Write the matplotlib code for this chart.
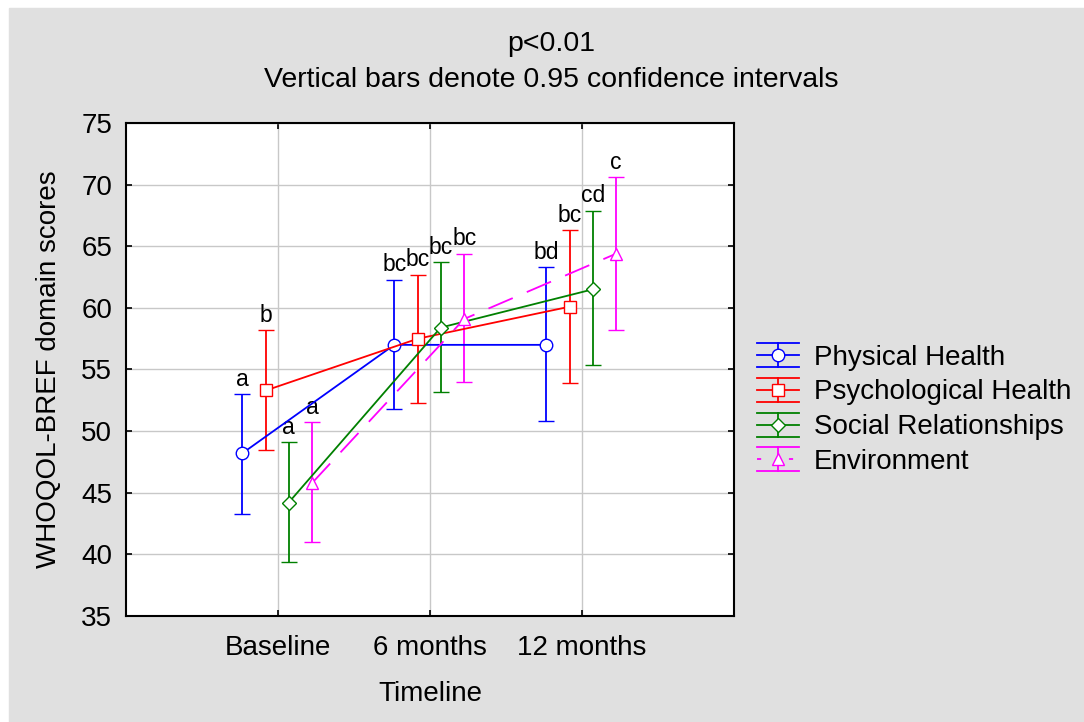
import matplotlib
matplotlib.use("Agg")
import matplotlib.pyplot as plt
from matplotlib.patches import Rectangle
from matplotlib.lines import Line2D
from matplotlib.legend_handler import HandlerBase
from matplotlib.container import ErrorbarContainer
import numpy as np

plt.rcParams['font.family'] = ['Liberation Sans', 'DejaVu Sans']
plt.rcParams['lines.scale_dashes'] = False

# data
timepoints = ["Baseline", "6 months", "12 months"]
domains = ["Physical Health", "Psychological Health", "Social Relationships", "Environment"]

physical_mean = [48.2, 57.0, 57.0]
physical_lo = [43.3, 51.8, 50.8]
physical_hi = [53.0, 62.3, 63.3]

psych_mean = [53.3, 57.5, 60.1]
psych_lo = [48.5, 52.3, 53.9]
psych_hi = [58.2, 62.7, 66.3]

social_mean = [44.2, 58.4, 61.5]
social_lo = [39.4, 53.2, 55.4]
social_hi = [49.1, 63.7, 67.9]

env_mean = [45.8, 59.1, 64.4]
env_lo = [41.0, 54.0, 58.2]
env_hi = [50.7, 64.4, 70.6]

physical_letters = ["a", "bc", "bd"]
psych_letters = ["b", "bc", "bc"]
social_letters = ["a", "bc", "cd"]
env_letters = ["a", "bc", "c"]

means = [physical_mean, psych_mean, social_mean, env_mean]
los = [physical_lo, psych_lo, social_lo, env_lo]
his = [physical_hi, psych_hi, social_hi, env_hi]
letters = [physical_letters, psych_letters, social_letters, env_letters]

colors = ["#0000ff", "#ff0000", "#008000", "#ff00ff"]
markers = ["o", "s", "D", "^"]
msizes = [9, 9, 7, 9]
offsets = [-0.235, -0.08, 0.07, 0.225]
styles = ["-", "-", "-", (0, (19, 11))]


# legend key like the original: caps across the whole key, marker in the middle
class ErrKeyHandler(HandlerBase):
    def create_artists(self, legend, orig_handle, xdescent, ydescent,
                       width, height, fontsize, trans):
        ln = orig_handle[0]
        c = ln.get_color()
        x0, x1 = -xdescent, -xdescent + width
        y0, y1 = -ydescent, -ydescent + height
        xm, ym = (x0 + x1) / 2, (y0 + y1) / 2
        arts = []
        for yy in (y0, y1):
            arts.append(Line2D([x0, x1], [yy, yy], color=c, lw=1.3))
        arts.append(Line2D([xm, xm], [y0, y1], color=c, lw=1.3))
        mid = Line2D([x0, x1], [ym, ym], color=c, lw=1.3, linestyle=ln.get_linestyle())
        if ln.get_linestyle() not in ("-", "solid"):
            mid.set_dashes((3, 20))
        arts.append(mid)
        arts.append(Line2D([xm], [ym], marker=ln.get_marker(), markersize=ln.get_markersize(),
                           markerfacecolor="white", markeredgecolor=c, markeredgewidth=1.0,
                           linestyle="none"))
        for a in arts:
            a.set_transform(trans)
        return arts


fig = plt.figure(figsize=(10.84, 7.22), dpi=100)
fig.patch.set_facecolor("white")
fig.patches.append(Rectangle((9 / 1084, 0), 1, (722 - 8) / 722,
                             transform=fig.transFigure, color="#e0e0e0", zorder=-10))

ax = fig.add_axes([126 / 1084, (722 - 616) / 722, 608 / 1084, 493 / 722])
ax.set_facecolor("white")

x = np.arange(len(timepoints))
handles = []
for i in range(4):
    xs = x + offsets[i]
    m = np.array(means[i])
    yerr = [m - np.array(los[i]), np.array(his[i]) - m]
    eb = ax.errorbar(xs, m, yerr=yerr, color=colors[i], ecolor=colors[i],
                     elinewidth=1.3, capsize=6, capthick=1.3, linewidth=1.3,
                     linestyle=styles[i], marker=markers[i], markersize=msizes[i],
                     markerfacecolor="white", markeredgecolor=colors[i],
                     markeredgewidth=1.0, label=domains[i], zorder=3)
    handles.append(eb)
    for j in range(3):
        ax.annotate(letters[i][j], (xs[j], his[i][j]), xytext=(0, 6),
                    textcoords="offset points", ha="center", va="baseline",
                    fontsize=16.5)

ax.set_xlim(-1, 3)
ax.set_ylim(35, 75)
ax.set_yticks(np.arange(35, 76, 5))
ax.set_xticks(x)
ax.set_xticklabels(timepoints)
ax.grid(True, color="#c8c8c8", linewidth=1.0, zorder=0)
ax.set_axisbelow(True)
ax.tick_params(direction="in", length=4, width=1.2, labelsize=20,
               top=True, right=True)
ax.tick_params(axis="x", pad=14)
ax.tick_params(axis="y", pad=10)
for s in ax.spines.values():
    s.set_linewidth(1.5)

ax.set_xlabel("Timeline", fontsize=20, labelpad=14)
ax.set_ylabel("WHOQOL-BREF domain scores", fontsize=20, labelpad=14)

fig.text(551 / 1084, 1 - 44 / 722, "p<0.01", ha="center", va="center", fontsize=20.5)
fig.text(551 / 1084, 1 - 80 / 722, "Vertical bars denote 0.95 confidence intervals",
         ha="center", va="center", fontsize=20.5)

fig.legend(handles=handles, loc="center left", bbox_to_anchor=(757 / 1084, 1 - 409 / 722),
           frameon=False, fontsize=20, handlelength=1.5, handleheight=0.95,
           handletextpad=0.55, labelspacing=0.26, borderpad=0, borderaxespad=0,
           handler_map={ErrorbarContainer: ErrKeyHandler()})

fig.savefig("out.png", dpi=100, facecolor=fig.get_facecolor())
